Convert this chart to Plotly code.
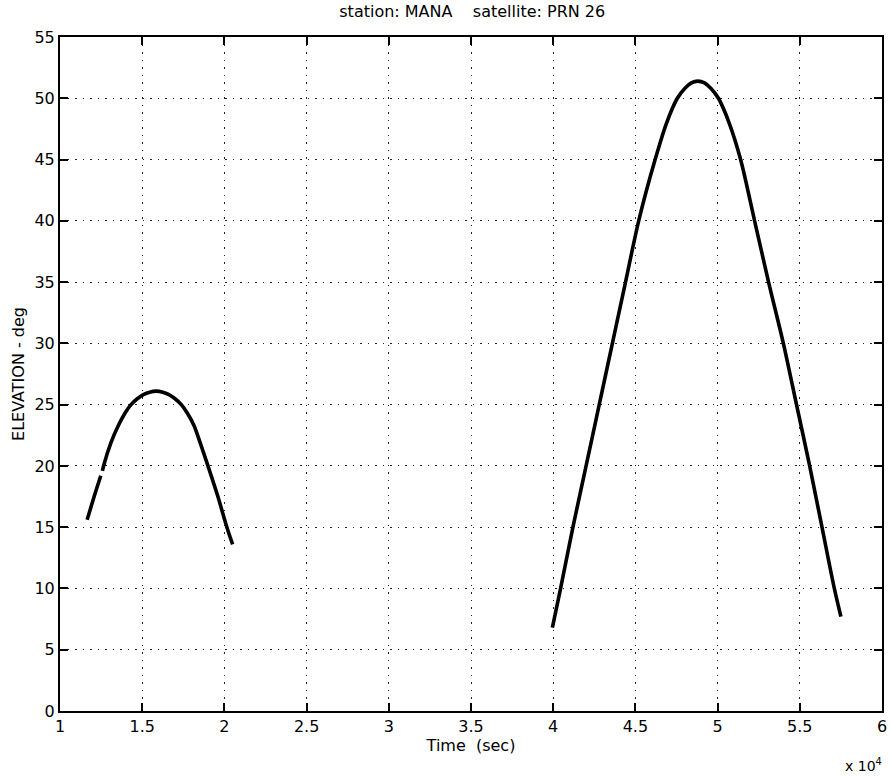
import plotly.graph_objects as go

# Pass 1 (time in units of 1e4 s, elevation in deg); None marks a data gap
pass1_time = [1.165, 1.21, 1.248, None, 1.258, 1.265, 1.31, 1.355, 1.395, 1.432,
              1.47, 1.51, 1.545, 1.585, 1.625, 1.66, 1.70, 1.738, 1.775,
              1.815, 1.855, 1.90, 1.958, 2.015, 2.05]
pass1_elev = [15.6, 17.6, 19.2, None, 19.6, 20.0, 21.9, 23.3, 24.3, 25.0,
              25.48, 25.84, 26.02, 26.1, 26.02, 25.84, 25.48, 25.0, 24.3,
              23.3, 21.8, 20.0, 17.6, 15.0, 13.6]

# Pass 2
pass2_time = [3.995, 4.045, 4.12, 4.20, 4.28, 4.36, 4.44, 4.52, 4.62, 4.69, 4.755,
              4.80, 4.84, 4.88, 4.92, 4.96, 5.005, 5.07, 5.14, 5.225, 5.31,
              5.40, 5.48, 5.56, 5.635, 5.71, 5.75]
pass2_elev = [6.8, 10.0, 15.0, 20.0, 25.0, 30.0, 35.0, 40.0, 45.0, 48.0, 50.0,
              50.8, 51.25, 51.4, 51.25, 50.8, 50.0, 48.0, 45.0, 40.0, 35.0,
              30.0, 25.0, 20.0, 15.0, 10.0, 7.7]

x_ticks = [1, 1.5, 2, 2.5, 3, 3.5, 4, 4.5, 5, 5.5, 6]
x_tick_labels = ["1", "1.5", "2", "2.5", "3", "3.5", "4", "4.5", "5", "5.5", "6"]
y_ticks = list(range(0, 56, 5))

font_family = "DejaVu Sans, Liberation Sans, Arial, sans-serif"

fig = go.Figure()
for xs, ys in [(pass1_time, pass1_elev), (pass2_time, pass2_elev)]:
    fig.add_trace(go.Scatter(
        x=xs, y=ys, mode="lines",
        line=dict(color="black", width=3.6, shape="spline", smoothing=0.8),
        connectgaps=False, showlegend=False, hoverinfo="skip"))

axis_common = dict(
    showline=True, linecolor="black", linewidth=2, mirror="ticks",
    ticks="inside", ticklen=8, tickwidth=1.5, tickcolor="black",
    showgrid=True, gridcolor="#222222", gridwidth=1, griddash="1.5px,6px",
    zeroline=False,
    tickfont=dict(family=font_family, size=16, color="black"),
)

fig.update_xaxes(range=[1, 6], tickvals=x_ticks, ticktext=x_tick_labels,
                 title=dict(text="Time  (sec)", standoff=2,
                            font=dict(family=font_family, size=16, color="black")),
                 **axis_common)
fig.update_yaxes(range=[0, 55], tickvals=y_ticks,
                 title=dict(text="ELEVATION - deg", standoff=6,
                            font=dict(family=font_family, size=16, color="black")),
                 **axis_common)

fig.update_layout(
    width=891, height=777,
    margin=dict(l=60, r=4, t=37, b=66),
    paper_bgcolor="white", plot_bgcolor="white",
    title=dict(text="station: MANA    satellite: PRN 26", x=0.53, xanchor="center",
               y=0.985, yanchor="middle",
               font=dict(family=font_family, size=16, color="black")),
    annotations=[dict(text="x 10<sup>4</sup>", xref="paper", yref="paper",
                      x=1.002, y=-0.080, xanchor="right", yanchor="middle",
                      showarrow=False,
                      font=dict(family=font_family, size=14, color="black"))],
)

fig.write_html("out.html")
